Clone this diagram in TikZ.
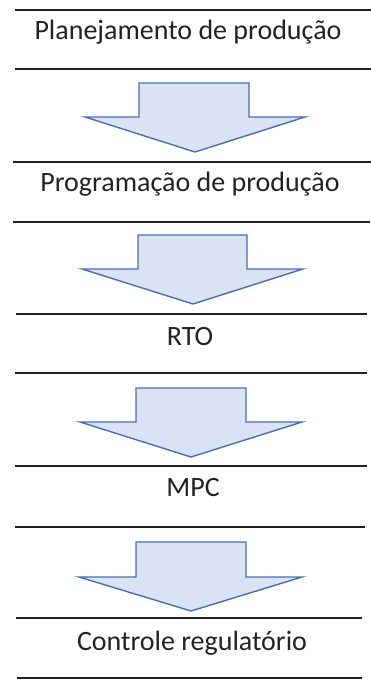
\documentclass[tikz,border=0pt]{standalone}
\usepackage{fontspec}
\setmainfont{Carlito}
\definecolor{arrowfill}{HTML}{DAE3F3}
\definecolor{arrowline}{HTML}{4A6FB0}
\definecolor{rule}{HTML}{222222}
\begin{document}
\begin{tikzpicture}[x=1pt,y=1pt]
\tikzstyle{every node}+=[inner sep=0pt,anchor=base,font=\fontsize{28}{32}\selectfont,text=rule]
\tikzstyle{sep}=[rule,line width=1.3pt]
\tikzstyle{blockarrow}=[arrowline,line width=1.4pt,fill=arrowfill,line join=miter]
\useasboundingbox (0,0) rectangle (371,-679);
\draw [sep] (15,-10) -- (371,-10);
\node (plan) at (188,-40) {Planejamento de produção};
\draw [sep] (15,-69) -- (371,-69);
\draw [blockarrow] (139,-83) -- (249,-83) -- (249,-117) -- (305,-117) -- (195,-152) -- (85,-117) -- (139,-117) -- cycle;
\draw [sep] (13,-162) -- (371,-162);
\node (prog) at (190,-191) {Programação de produção};
\draw [sep] (13,-222) -- (370,-222);
\draw [blockarrow] (138,-235) -- (247,-235) -- (247,-269) -- (303,-269) -- (193,-304) -- (82,-269) -- (138,-269) -- cycle;
\draw [sep] (16,-314) -- (367,-314);
\node (rto) at (190,-345) {RTO};
\draw [sep] (15,-373) -- (367,-373);
\draw [blockarrow] (136,-388) -- (246,-388) -- (246,-422) -- (302,-422) -- (191,-457) -- (80,-422) -- (136,-422) -- cycle;
\draw [sep] (15,-466) -- (367,-466);
\node (mpc) at (193,-496) {MPC};
\draw [sep] (15,-527) -- (365,-527);
\draw [blockarrow] (136,-542) -- (246,-542) -- (246,-577) -- (302,-577) -- (191,-611) -- (79,-577) -- (136,-577) -- cycle;
\draw [sep] (16,-618) -- (362,-618);
\node (reg) at (192,-650) {Controle regulatório};
\draw [sep] (17,-678) -- (362,-678);
\end{tikzpicture}
\end{document}
